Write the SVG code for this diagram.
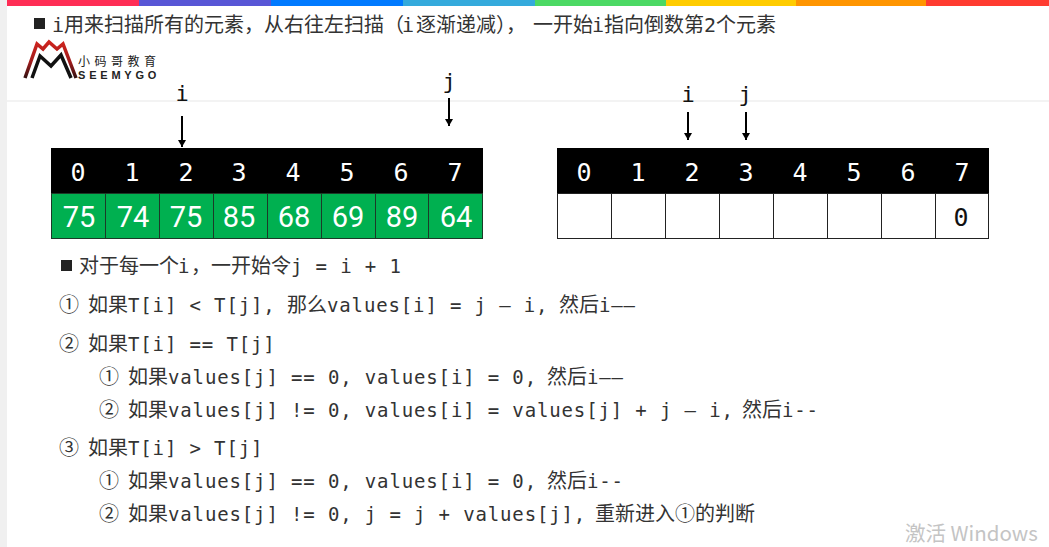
<svg xmlns="http://www.w3.org/2000/svg" width="1049" height="547" viewBox="0 0 1049 547">
<style>
text{font-family:"DejaVu Sans Mono","Noto Sans CJK SC",monospace;fill:#333}
.t{font-size:19px;letter-spacing:.86px}
.cn{font-family:"Noto Sans CJK SC",sans-serif;font-size:20px;letter-spacing:0}
.h{font-size:20px}
.idx{font-size:25px;fill:#fff;text-anchor:middle}
.val{font-family:"Roboto","DejaVu Sans",sans-serif;font-size:29px;fill:#fff;text-anchor:middle}
.ptr{font-size:22px;fill:#111;text-anchor:middle}
.g{fill:#00b050;stroke:#1c3a28;stroke-width:1}
.w{fill:#fff;stroke:#222;stroke-width:1}
.ar{stroke:#000;stroke-width:2;fill:none;marker-end:url(#ah)}
</style>
<defs>
<marker id="ah" markerUnits="userSpaceOnUse" markerWidth="8" markerHeight="9" refX="7" refY="4" orient="auto"><path d="M0 0L7 4L0 8Z" fill="#000"/></marker>
<linearGradient id="red" gradientUnits="userSpaceOnUse" x1="0" y1="41" x2="0" y2="79"><stop offset="0" stop-color="#d0241e"/><stop offset=".55" stop-color="#a01c1c"/><stop offset="1" stop-color="#2a1010"/></linearGradient>
</defs>
<rect width="1049" height="547" fill="#fff"/>
<rect width="7" height="547" fill="#f0f0f0"/>
<g id="top-bar">
<rect x="7" width="132" height="6" fill="#ff2d55"/><rect x="139" width="132" height="6" fill="#5856d6"/><rect x="271" width="132" height="6" fill="#007aff"/><rect x="403" width="132" height="6" fill="#34aadc"/><rect x="535" width="131" height="6" fill="#4cd964"/><rect x="666" width="130" height="6" fill="#ffcc00"/><rect x="796" width="130" height="6" fill="#ff9500"/><rect x="926" width="123" height="6" fill="#ff3b30"/>
</g>
<rect x="7" y="100" width="1042" height="2" fill="#f3f3f3"/>
<g id="logo">
<path d="M25 78L37 44L43 49L49 42L57 49L63 44L76 78" fill="none" stroke="url(#red)" stroke-width="3.500"/>
<path d="M32 78L40 56L51 66L61 55L71 78" fill="none" stroke="#111" stroke-width="3.500"/>
<text class="cn" style="font-size:12px;letter-spacing:4.500px;fill:#222" x="78" y="66">小码哥教育</text>
<text style="font-family:'Liberation Sans',sans-serif;font-size:11px;font-weight:bold;letter-spacing:3.800px;fill:#222" x="78" y="78.500">SEEMYGO</text>
</g>
<g id="heading">
<rect x="34" y="18" width="11" height="11" fill="#222"/>
<text class="h" y="32" x="52">i<tspan class="cn" x="64">用来扫描所有的元素，从右往左扫描（</tspan><tspan x="402">i</tspan><tspan class="cn" x="416">逐渐递减），</tspan><tspan class="cn" x="533">一开始</tspan><tspan x="592">i</tspan><tspan class="cn" x="604">指向倒数第</tspan><tspan x="704">2</tspan><tspan class="cn" x="716">个元素</tspan></text>
</g>
<g id="left-array">
<rect x="51" y="148" width="432" height="45" fill="#000"/>
<rect class="g" x="51.500" y="193.500" width="54" height="45"/><rect class="g" x="105.500" y="193.500" width="54" height="45"/><rect class="g" x="159.500" y="193.500" width="54" height="45"/><rect class="g" x="213.500" y="193.500" width="54" height="45"/><rect class="g" x="267.500" y="193.500" width="54" height="45"/><rect class="g" x="321.500" y="193.500" width="54" height="45"/><rect class="g" x="375.500" y="193.500" width="53" height="45"/><rect class="g" x="428.500" y="193.500" width="54" height="45"/>
<text class="idx" x="78" y="181">0</text><text class="idx" x="132" y="181">1</text><text class="idx" x="186" y="181">2</text><text class="idx" x="239" y="181">3</text><text class="idx" x="293" y="181">4</text><text class="idx" x="347" y="181">5</text><text class="idx" x="401" y="181">6</text><text class="idx" x="455" y="181">7</text>
<text class="val" x="79" y="227">75</text><text class="val" x="133" y="227">74</text><text class="val" x="186" y="227">75</text><text class="val" x="239" y="227">85</text><text class="val" x="294" y="227">68</text><text class="val" x="348" y="227">69</text><text class="val" x="402" y="227">89</text><text class="val" x="456" y="227">64</text>
</g>
<g id="right-array">
<rect x="557" y="148" width="432" height="45" fill="#000"/>
<rect class="w" x="557.500" y="193.500" width="54" height="45"/><rect class="w" x="611.500" y="193.500" width="54" height="45"/><rect class="w" x="665.500" y="193.500" width="54" height="45"/><rect class="w" x="719.500" y="193.500" width="54" height="45"/><rect class="w" x="773.500" y="193.500" width="54" height="45"/><rect class="w" x="827.500" y="193.500" width="54" height="45"/><rect class="w" x="881.500" y="193.500" width="54" height="45"/><rect class="w" x="935.500" y="193.500" width="53" height="45"/>
<text class="idx" x="584" y="181">0</text><text class="idx" x="638" y="181">1</text><text class="idx" x="692" y="181">2</text><text class="idx" x="746" y="181">3</text><text class="idx" x="800" y="181">4</text><text class="idx" x="854" y="181">5</text><text class="idx" x="908" y="181">6</text><text class="idx" x="962" y="181">7</text>
<text class="idx" style="fill:#111" x="961" y="226">0</text>
</g>
<g id="pointers">
<text class="ptr" x="182" y="101">i</text><text class="ptr" x="449" y="89">j</text><text class="ptr" x="688" y="102">i</text><text class="ptr" x="745" y="102">j</text>
</g>
<g id="connectors">
<line class="ar" x1="182" y1="116" x2="182" y2="147"/>
<line class="ar" x1="449" y1="98" x2="449" y2="126"/>
<line class="ar" x1="688" y1="112" x2="688" y2="140"/>
<line class="ar" x1="746" y1="112" x2="746" y2="140"/>
</g>
<g id="rules">
<rect x="61" y="260" width="11" height="11" fill="#222"/>
<text class="t" y="273" x="79"><tspan class="cn">对于每一个</tspan><tspan x="178">i</tspan><tspan class="cn" x="191">，一开始令</tspan><tspan x="291">j = i + 1</tspan></text>
<text class="t" y="312"><tspan class="cn" x="59">①</tspan><tspan class="cn" x="88">如果</tspan><tspan x="128">T[i] &lt; T[j],</tspan><tspan class="cn" x="287">那么</tspan><tspan x="327">values[i] = j — i,</tspan><tspan class="cn" x="559">然后</tspan><tspan x="599">i——</tspan></text>
<text class="t" y="351"><tspan class="cn" x="59">②</tspan><tspan class="cn" x="88">如果</tspan><tspan x="128">T[i] == T[j]</tspan></text>
<text class="t" y="384"><tspan class="cn" x="99">①</tspan><tspan class="cn" x="128">如果</tspan><tspan x="168">values[j] == 0, values[i] = 0,</tspan><tspan class="cn" x="547">然后</tspan><tspan x="587">i——</tspan></text>
<text class="t" y="417"><tspan class="cn" x="99">②</tspan><tspan class="cn" x="128">如果</tspan><tspan x="168">values[j] != 0, values[i] = values[j] + j — i,</tspan><tspan class="cn" x="742">然后</tspan><tspan x="782">i--</tspan></text>
<text class="t" y="455"><tspan class="cn" x="59">③</tspan><tspan class="cn" x="88">如果</tspan><tspan x="128">T[i] &gt; T[j]</tspan></text>
<text class="t" y="488"><tspan class="cn" x="99">①</tspan><tspan class="cn" x="128">如果</tspan><tspan x="168">values[j] == 0, values[i] = 0,</tspan><tspan class="cn" x="547">然后</tspan><tspan x="587">i--</tspan></text>
<text class="t" y="521"><tspan class="cn" x="99">②</tspan><tspan class="cn" x="128">如果</tspan><tspan x="168">values[j] != 0, j = j + values[j],</tspan><tspan class="cn" x="595">重新进入①的判断</tspan></text>
</g>
<text id="watermark" style="font-family:'Noto Sans CJK SC','Noto Sans',sans-serif;font-size:20.500px;fill:#c4c4c4" x="905" y="541">激活 Windows</text>
</svg>
